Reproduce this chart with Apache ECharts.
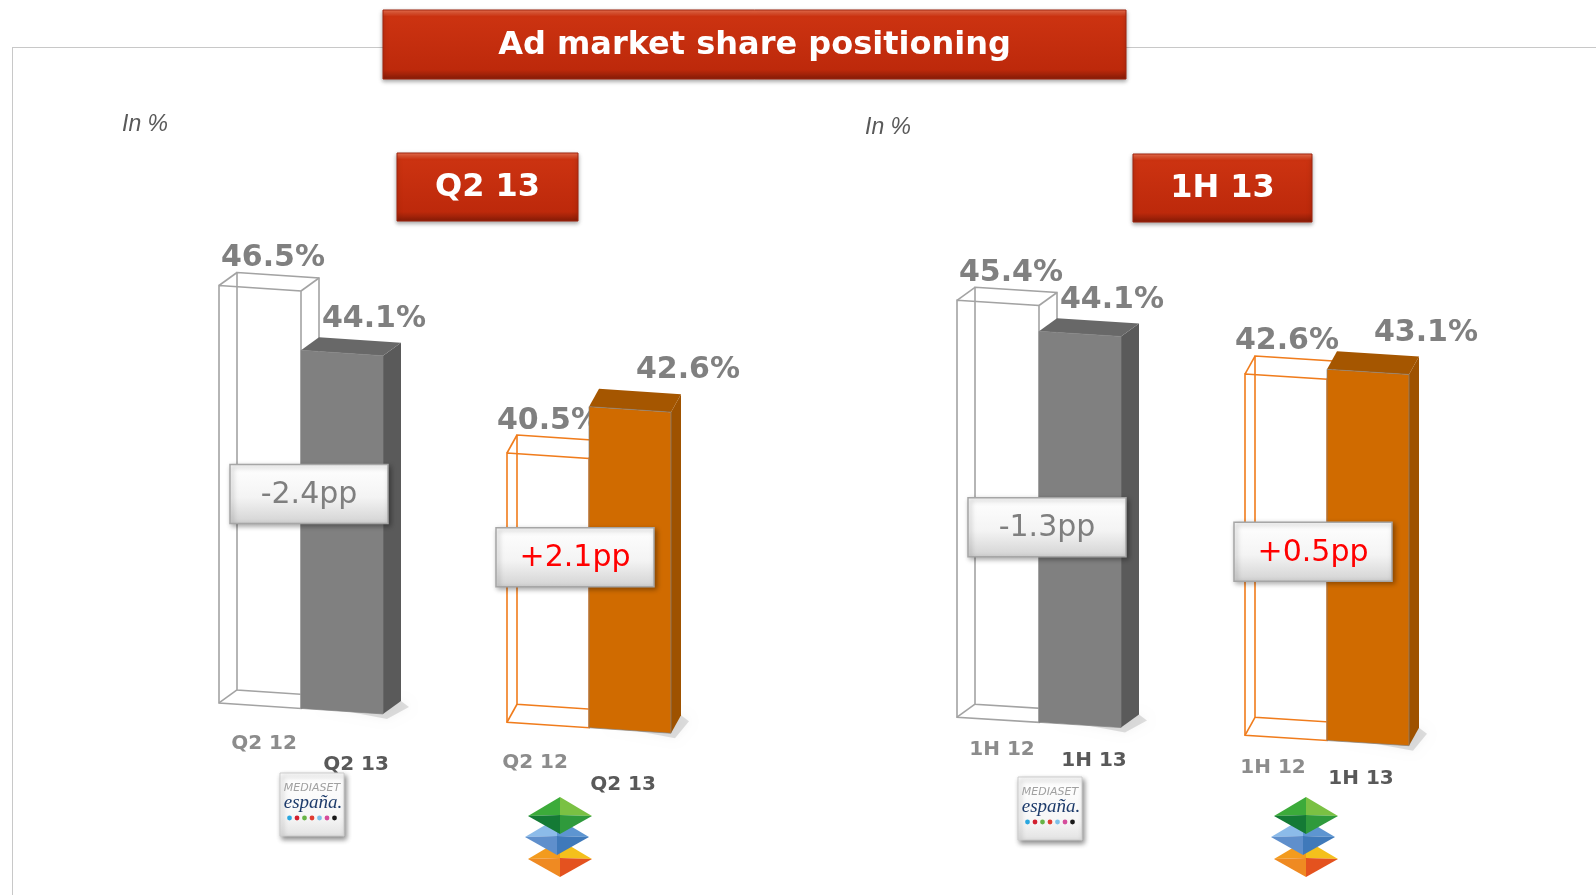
<!DOCTYPE html>
<html>
<head>
<meta charset="UTF-8">
<title>Ad market share positioning</title>
<script type="text/javascript" src="https://cdn.jsdelivr.net/npm/echarts@6/dist/echarts.min.js"></script>
<style>
html, body { margin: 0; padding: 0; background: #fff; }
#main { width: 1596px; height: 895px; }
</style>
</head>
<body>
<div id="main"></div>
<script type="text/javascript">
// chart data
var companies = ['Mediaset España', 'Atresmedia'];
var q2Periods = ['Q2 12', 'Q2 13'];
var h1Periods = ['1H 12', '1H 13'];
var q2Prev = [46.5, 40.5];
var q2Curr = [44.1, 42.6];
var h1Prev = [45.4, 42.6];
var h1Curr = [44.1, 43.1];

var myChart = echarts.init(document.getElementById('main'));

var FONT = 'DejaVu Sans, Verdana, sans-serif';
var BAR_W = 82;
var DEPTH = [[18, -13], [10, -18]]; // depth of the 3d boxes, per company
var COLORS = [
	{ line: '#a3a3a3', front: '#808080', side: '#5a5a5a', top: '#686868' },
	{ line: '#f07c1c', front: '#d06b00', side: '#9e5200', top: '#a55600' }
];
// horizontal nudges per company (perspective of the slide)
var VALUE_DX = { prev: [13, 1], curr: [32, 58] };
var PERIOD_DX = { prev: [4, -13], curr: [14, -7] };
var BADGE_DX = [8, -14];
// y axis start, slide perspective, badge height and period label offsets per panel
var panels = [
	{ min: 29.6, max: 50, skew: 0.067, badge: [0.6, 0.63], periodDy: { prev: 44, curr: 60 } },
	{ min: 24.4, max: 50, skew: 0.063, badge: [0.5, 0.52], periodDy: { prev: 36, curr: 42 } }
];

function grad(stops) {
	return new echarts.graphic.LinearGradient(0, 0, 0, 1, stops.map(function (c) {
		return { offset: c[0], color: c[1] };
	}));
}

function boxPoints(params, api, panel, kind) {
	var cs = params.coordSys;
	var p = panels[panel];
	var cat = api.value(0);
	var base = api.coord([cat, p.min]);
	var top = api.coord([cat, api.value(1)]);
	var x0 = kind === 'prev' ? base[0] - BAR_W : base[0];
	var x1 = x0 + BAR_W;
	function pt(x, y) { return [x, y + p.skew * (x - cs.x)]; }
	var f = [pt(x0, top[1]), pt(x1, top[1]), pt(x1, base[1]), pt(x0, base[1])];
	var d = DEPTH[cat];
	var b = f.map(function (q) { return [q[0] + d[0], q[1] + d[1]]; });
	return { f: f, b: b, cat: cat, x0: x0, x1: x1 };
}

function barItem(panel, kind, periods) {
	return function (params, api) {
		var g = boxPoints(params, api, panel, kind);
		var f = g.f, b = g.b;
		var col = COLORS[g.cat];
		var children = [];
		if (kind === 'prev') {
			var ls = { fill: null, stroke: col.line, lineWidth: 1.6 };
			children.push({ type: 'polygon', shape: { points: b }, style: ls });
			children.push({ type: 'polygon', shape: { points: f }, style: ls });
			for (var i = 0; i < 4; i++) {
				children.push({ type: 'line', shape: { x1: f[i][0], y1: f[i][1], x2: b[i][0], y2: b[i][1] }, style: { stroke: col.line, lineWidth: 1.6 } });
			}
		} else {
			// soft floor shadow
			children.push({ type: 'polygon', shape: { points: [[f[3][0] + 20, f[3][1] - 2], b[2], [b[2][0] + 8, b[2][1] + 6], [f[2][0] + 4, f[2][1] + 5]] },
				style: { fill: 'rgba(0,0,0,0.12)', shadowBlur: 10, shadowColor: 'rgba(0,0,0,0.35)' } });
			children.push({ type: 'polygon', shape: { points: [f[1], b[1], b[2], f[2]] }, style: { fill: col.side } });
			children.push({ type: 'polygon', shape: { points: [f[0], b[0], b[1], f[1]] }, style: { fill: col.top } });
			children.push({ type: 'polygon', shape: { points: f }, style: { fill: col.front, stroke: 'rgba(130,130,130,0.7)', lineWidth: 1 } });
		}
		var cx = (g.x0 + g.x1) / 2;
		var backTop = (b[0][1] + b[1][1]) / 2;
		var bottom = (f[2][1] + f[3][1]) / 2;
		children.push({
			type: 'text',
			style: {
				text: api.value(1).toFixed(1) + '%',
				x: cx + VALUE_DX[kind][g.cat],
				y: backTop - (kind === 'prev' ? 8 : 12) + 6,
				textAlign: 'center', textVerticalAlign: 'bottom',
				fill: '#808080', font: 'bold 30px ' + FONT
			}
		});
		children.push({
			type: 'text',
			style: {
				text: periods[kind === 'prev' ? 0 : 1],
				x: cx + PERIOD_DX[kind][g.cat],
				y: bottom + panels[panel].periodDy[kind] + 4,
				textAlign: 'center', textVerticalAlign: 'bottom',
				fill: kind === 'prev' ? '#8c8c8c' : '#595959', font: 'bold 20px ' + FONT
			}
		});
		return { type: 'group', children: children };
	};
}

function badgeItem(panel) {
	return function (params, api) {
		var cs = params.coordSys;
		var p = panels[panel];
		var cat = api.value(0), prev = api.value(1), curr = api.value(2);
		var base = api.coord([cat, p.min]);
		var low = api.coord([cat, Math.min(prev, curr)]);
		var cx = base[0] + BADGE_DX[cat];
		var cy = base[1] - p.badge[cat] * (base[1] - low[1]) + p.skew * (cx - cs.x);
		var delta = curr - prev;
		var txt = (delta > 0 ? '+' : '') + delta.toFixed(1) + 'pp';
		return {
			type: 'group',
			children: [{
				type: 'rect',
				shape: { x: cx - 79, y: cy - 29.5, width: 158, height: 59 },
				style: {
					fill: grad([[0, '#ffffff'], [0.55, '#f4f4f4'], [1, '#d2d2d2']]),
					stroke: '#a6a6a6', lineWidth: 1.5,
					shadowBlur: 5, shadowColor: 'rgba(0,0,0,0.35)', shadowOffsetX: 2, shadowOffsetY: 2
				}
			}, {
				type: 'text',
				style: {
					text: txt, x: cx, y: cy + 1,
					textAlign: 'center', textVerticalAlign: 'middle',
					fill: delta > 0 ? '#ff0000' : '#7f7f7f', font: '30px ' + FONT
				}
			}]
		};
	};
}

function redBox(x, y, w, h, text, size) {
	return {
		type: 'group', x: x, y: y,
		children: [{
			type: 'rect',
			shape: { x: 0, y: 0, width: w, height: h },
			style: {
				fill: grad([[0, '#f27452'], [0.1, '#cc3311'], [0.86, '#bd290b'], [1, '#841b07']]),
				stroke: '#9e240e', lineWidth: 1,
				shadowBlur: 4, shadowColor: 'rgba(0,0,0,0.35)', shadowOffsetY: 2
			}
		}, {
			type: 'text',
			style: {
				text: text, x: w / 2, y: h / 2 + 1,
				textAlign: 'center', textVerticalAlign: 'middle',
				fill: '#ffffff', font: 'bold ' + size + 'px ' + FONT
			}
		}]
	};
}

function mediasetLogo(cx, cy) {
	var dots = ['#2aa7df', '#d21f2f', '#67b346', '#e03c31', '#7cc1e9', '#d54c9b', '#1a1a1a'];
	var children = [{
		type: 'rect',
		shape: { x: -32, y: -31, width: 64, height: 63 },
		style: {
			fill: grad([[0, '#ffffff'], [0.7, '#f6f6f6'], [1, '#e2e2e2']]),
			stroke: '#cccccc', lineWidth: 1,
			shadowBlur: 5, shadowColor: 'rgba(0,0,0,0.45)', shadowOffsetX: 2, shadowOffsetY: 3
		}
	}, {
		type: 'text',
		style: { text: 'MEDIASET', x: 0, y: -16, textAlign: 'center', textVerticalAlign: 'middle', fill: '#a0a0a0', font: 'italic 11px ' + FONT }
	}, {
		type: 'text',
		style: { text: 'españa.', x: 1, y: -1, textAlign: 'center', textVerticalAlign: 'middle', fill: '#1d3b6b', font: 'italic 19px Liberation Serif, serif' }
	}];
	dots.forEach(function (c, i) {
		children.push({ type: 'circle', shape: { cx: -22.5 + i * 7.5, cy: 14, r: 2.4 }, style: { fill: c } });
	});
	return { type: 'group', x: cx, y: cy, children: children };
}

function atresLogo(cx, cy) {
	var layers = [
		{ dx: 0, dy: 22, c: ['#f39b1e', '#f4c01c', '#e4521f', '#ef8a22'] },
		{ dx: -3, dy: 0, c: ['#8cbbe9', '#5d95d1', '#3f79ba', '#5f8fcc'] },
		{ dx: 0, dy: -21, c: ['#3cab3a', '#7ac143', '#2f9a3c', '#147a35'] }
	];
	var children = [];
	layers.forEach(function (l) {
		var L = [l.dx - 32, l.dy], T = [l.dx, l.dy - 19], R = [l.dx + 32, l.dy], B = [l.dx, l.dy + 18], C = [l.dx, l.dy - 1];
		[[L, T], [T, R], [R, B], [B, L]].forEach(function (e, i) {
			children.push({ type: 'polygon', shape: { points: [e[0], e[1], C] }, style: { fill: l.c[i] } });
		});
	});
	return { type: 'group', x: cx, y: cy, children: children };
}

function inPct(x, y) {
	return {
		type: 'text',
		style: { text: 'In %', x: x, y: y, textVerticalAlign: 'middle', fill: '#595959', font: 'italic 23px Liberation Sans Narrow, Liberation Sans, sans-serif' }
	};
}

function pairs(arr) {
	return arr.map(function (v, i) { return [i, v]; });
}

var frame = { stroke: '#c8c8c8', lineWidth: 1 };

option = {
	animation: false,
	backgroundColor: '#ffffff',
	grid: [
		{ left: 157, top: 194.9, width: 576, height: 503.9 },
		{ left: 895, top: 205.1, width: 576, height: 508.2 }
	],
	xAxis: [
		{ type: 'category', gridIndex: 0, data: companies, show: false },
		{ type: 'category', gridIndex: 1, data: companies, show: false }
	],
	yAxis: [
		{ type: 'value', gridIndex: 0, min: panels[0].min, max: panels[0].max, show: false },
		{ type: 'value', gridIndex: 1, min: panels[1].min, max: panels[1].max, show: false }
	],
	graphic: [
		{ type: 'line', shape: { x1: 12, y1: 47.5, x2: 383, y2: 47.5 }, style: frame },
		{ type: 'line', shape: { x1: 1126, y1: 47.5, x2: 1596, y2: 47.5 }, style: frame },
		{ type: 'line', shape: { x1: 12.5, y1: 47, x2: 12.5, y2: 895 }, style: frame },
		redBox(383, 10, 743, 69, 'Ad market share positioning', 32),
		redBox(397, 153, 181, 68, 'Q2 13', 32),
		redBox(1133, 154, 179, 68, '1H 13', 32),
		inPct(122, 125),
		inPct(865, 128),
		mediasetLogo(312, 804),
		mediasetLogo(1050, 808),
		atresLogo(560, 837),
		atresLogo(1306, 837)
	],
	series: [
		{ type: 'custom', name: q2Periods[0], xAxisIndex: 0, yAxisIndex: 0, data: pairs(q2Prev), renderItem: barItem(0, 'prev', q2Periods) },
		{ type: 'custom', name: q2Periods[1], xAxisIndex: 0, yAxisIndex: 0, data: pairs(q2Curr), renderItem: barItem(0, 'curr', q2Periods) },
		{ type: 'custom', name: h1Periods[0], xAxisIndex: 1, yAxisIndex: 1, data: pairs(h1Prev), renderItem: barItem(1, 'prev', h1Periods) },
		{ type: 'custom', name: h1Periods[1], xAxisIndex: 1, yAxisIndex: 1, data: pairs(h1Curr), renderItem: barItem(1, 'curr', h1Periods) },
		{ type: 'custom', name: 'change Q2', xAxisIndex: 0, yAxisIndex: 0,
			data: q2Prev.map(function (v, i) { return [i, v, q2Curr[i]]; }), renderItem: badgeItem(0) },
		{ type: 'custom', name: 'change 1H', xAxisIndex: 1, yAxisIndex: 1,
			data: h1Prev.map(function (v, i) { return [i, v, h1Curr[i]]; }), renderItem: badgeItem(1) }
	]
};
myChart.setOption(option);
</script>
</body>
</html>
